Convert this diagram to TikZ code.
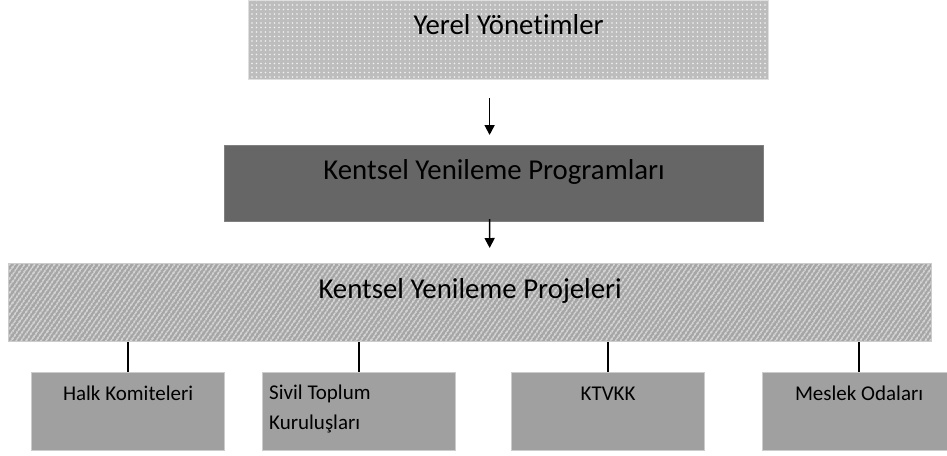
\documentclass[tikz,border=0pt]{standalone}
\usepackage{fontspec}
\setmainfont{Carlito}[Ligatures=NoCommon]
\usetikzlibrary{arrows.meta,patterns.meta}
\definecolor{DotGray}{HTML}{BDBDBD}
\definecolor{DarkGray}{HTML}{666666}
\definecolor{HatchGray}{HTML}{A6A6A6}
\definecolor{BoxGray}{HTML}{A0A0A0}

\tikzset{
  bigbox/.style={rectangle,inner sep=0pt,anchor=north west,line width=1.2pt},
  smallbox/.style={rectangle,inner sep=0pt,anchor=north west,fill=BoxGray,
    draw=gray!40,line width=1.2pt,minimum width=193pt,minimum height=78pt},
  bigtext/.style={font=\fontsize{28.8}{34}\selectfont},
  smalltext/.style={font=\fontsize{21}{30}\selectfont},
  arr/.style={-{Triangle[length=10pt,width=10pt]},line width=1.7pt},
  link/.style={line width=2pt}
}

\begin{document}
\begin{tikzpicture}[x=1pt,y=-1pt]
  \useasboundingbox (0,0) rectangle (947,455);

  \node[bigbox,draw=gray!25,minimum width=520pt,minimum height=79pt,
    preaction={fill=DotGray},
    pattern={Dots[radius=0.8pt,distance=4.5pt]},pattern color=white!90!gray,
    label={[bigtext,anchor=base,yshift=-34pt]north:Yerel Yönetimler}]
    (yerel) at (248,0) {};

  \node[bigbox,fill=DarkGray,draw=gray,minimum width=539pt,minimum height=76pt,
    label={[bigtext,anchor=base,yshift=-34pt]north:Kentsel Yenileme Programları}]
    (prog) at (224,145) {};

  \node[bigbox,draw=gray!40,minimum width=923pt,minimum height=78pt,
    preaction={fill=HatchGray},
    pattern={Lines[angle=55,distance=4pt,line width=1.3pt]},pattern color=white!85!gray,
    label={[bigtext,anchor=base,yshift=-35pt]north:Kentsel Yenileme Projeleri}]
    (proj) at (8,263) {};

  % alt birimler
  \node[smallbox,label={[smalltext,anchor=base,yshift=-28pt]north:Halk Komiteleri}]
    (halk) at (31,372) {};
  \node[smallbox,label={[smalltext,anchor=north west,align=left,inner sep=0pt,
      xshift=7pt,yshift=-13pt]north west:Sivil Toplum\\Kuruluşları}]
    (stk) at (262,372) {};
  \node[smallbox,label={[smalltext,anchor=base,yshift=-28pt]north:KTVKK}]
    (ktvkk) at (511,372) {};
  \node[smallbox,label={[smalltext,anchor=base,yshift=-28pt]north:Meslek Odaları}]
    (meslek) at (762,372) {};

  \draw[arr] ([xshift=-19pt,yshift=-18pt]yerel.south) -- ([xshift=-4.5pt,yshift=10pt]prog.north);
  \draw[arr] ([xshift=-4.5pt,yshift=3pt]prog.south) -- ([xshift=19.5pt,yshift=15pt]proj.north);

  \draw[link] (halk.north) -- (halk.north |- proj.south);
  \draw[link] (stk.north) -- (stk.north |- proj.south);
  \draw[link] (ktvkk.north) -- (ktvkk.north |- proj.south);
  \draw[link] (meslek.north) -- (meslek.north |- proj.south);
\end{tikzpicture}
\end{document}
